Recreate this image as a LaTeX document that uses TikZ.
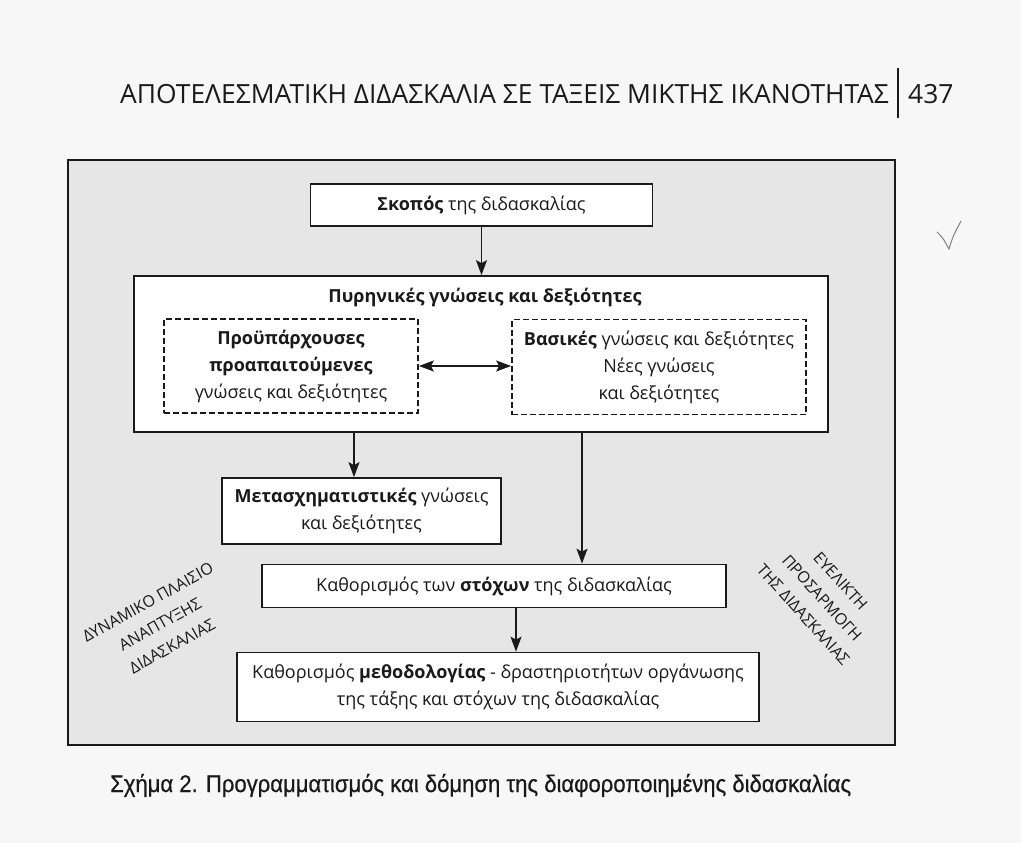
\documentclass[tikz,border=0pt]{standalone}
\usepackage{fontspec}
\setmainfont{Open Sans}
\newfontfamily\capfont[FakeStretch=0.92,FakeBold=0.6]{Liberation Sans}
\usetikzlibrary{arrows.meta}
\definecolor{pagebg}{HTML}{F7F7F7}
\definecolor{framebg}{HTML}{E6E6E6}
\definecolor{inkc}{HTML}{1A1A1A}
\begin{document}
\begin{tikzpicture}[x=1pt,y=-1pt,
  box/.style={draw=inkc, line width=1.7pt, fill=white, inner sep=0pt, align=center,
    font=\fontsize{18}{27}\selectfont, text=inkc},
  dbox/.style={box, dash pattern=on 6pt off 3pt},
  tip/.style={},
  arr/.style={draw=inkc, line width=1.4pt, -{Stealth[length=15pt,width=11pt,inset=3pt]}},
  darr/.style={draw=inkc, line width=1.4pt, {Stealth[length=15pt,width=11pt,inset=3pt]}-{Stealth[length=15pt,width=11pt,inset=3pt]}},
  rot/.style={align=center, inner sep=0pt, font=\fontsize{16}{25}\selectfont, text=inkc},
  hdr/.style={anchor=base west, inner sep=0pt, font=\fontsize{26.4}{30}\selectfont, text=inkc}
]
\useasboundingbox (0,0) rectangle (1021,843);
\fill[pagebg] (0,0) rectangle (1021,843);

% header
\node[hdr] (title) at (120,103) {ΑΠΟΤΕΛΕΣΜΑΤΙΚΗ ΔΙΔΑΣΚΑΛΙΑ ΣΕ ΤΑΞΕΙΣ ΜΙΚΤΗΣ ΙΚΑΝΟΤΗΤΑΣ};
\coordinate (bartop) at (898,68);
\coordinate (barbot) at (898,118);
\draw[inkc, line width=1.5pt] (bartop) -- (barbot);
\node[hdr] (page) at (908,103) {437};

% check mark
\coordinate (ck1) at (937,232);
\coordinate (ck2) at (949,249);
\coordinate (ck3) at (961,221);
\draw[gray, line width=1pt, line cap=round] (ck1) .. controls (943,238) .. (ck2) .. controls (953,236) .. (ck3);

% frame
\node[draw=inkc, line width=2pt, fill=framebg, minimum width=827pt, minimum height=585pt, inner sep=0pt] (frame) at (481.5,452.5) {};

% boxes
\node[box, minimum width=342pt, minimum height=42pt] (skopos) at (481.5,205) {\textbf{Σκοπός} της διδασκαλίας};
\node[box, minimum width=694pt, minimum height=156pt] (pyr) at (481,354) {};
\node[inner sep=0pt, font=\fontsize{18}{27}\selectfont\bfseries, text=inkc] (pyrt) at (485,297) {Πυρηνικές γνώσεις και δεξιότητες};
\node[dbox, minimum width=254pt, minimum height=94pt] (pre) at (291,366) {\textbf{Προϋπάρχουσες}\\\textbf{προαπαιτούμενες}\\γνώσεις και δεξιότητες};
\node[dbox, minimum width=294pt, minimum height=95pt] (vas) at (659,367) {\textbf{Βασικές} γνώσεις και δεξιότητες\\Νέες γνώσεις\\και δεξιότητες};
\node[box, minimum width=279pt, minimum height=66pt] (meta) at (361.5,511) {\textbf{Μετασχηματιστικές} γνώσεις\\και δεξιότητες};
\node[box, minimum width=464pt, minimum height=43pt] (stoch) at (494,586) {Καθορισμός των \textbf{στόχων} της διδασκαλίας};
\node[box, minimum width=522pt, minimum height=69pt] (meth) at (498,687) {Καθορισμός \textbf{μεθοδολογίας} - δραστηριοτήτων οργάνωσης\\της τάξης και στόχων της διδασκαλίας};

% connectors
\draw[arr] (skopos.south) -- (skopos.south |- pyr.north);
\draw[darr] (pre.east) -- (pre.east -| vas.west);
\draw[arr] ([xshift=-7.5pt]meta.north |- pyr.south) -- ([xshift=-7.5pt]meta.north);
\draw[arr] ([xshift=88pt]stoch.north |- pyr.south) -- ([xshift=88pt]stoch.north);
\draw[arr] ([xshift=22pt]stoch.south) -- ([xshift=22pt]stoch.south |- meth.north);

% rotated labels
\node[rot, rotate=29] (dyn) at (160,624) {ΔΥΝΑΜΙΚΟ ΠΛΑΙΣΙΟ\\ΑΝΑΠΤΥΞΗΣ\\ΔΙΔΑΣΚΑΛΙΑΣ};
\node[rot, rotate=-48] (eve) at (822,598) {ΕΥΕΛΙΚΤΗ\\ΠΡΟΣΑΡΜΟΓΗ\\ΤΗΣ ΔΙΔΑΣΚΑΛΙΑΣ};

% caption
\node[anchor=base west, inner sep=0pt, text=inkc] (cap) at (110,792) {\capfont\fontsize{24}{28}\selectfont Σχήμα 2. Προγραμματισμός και δόμηση της διαφοροποιημένης διδασκαλίας};
\end{tikzpicture}
\end{document}
